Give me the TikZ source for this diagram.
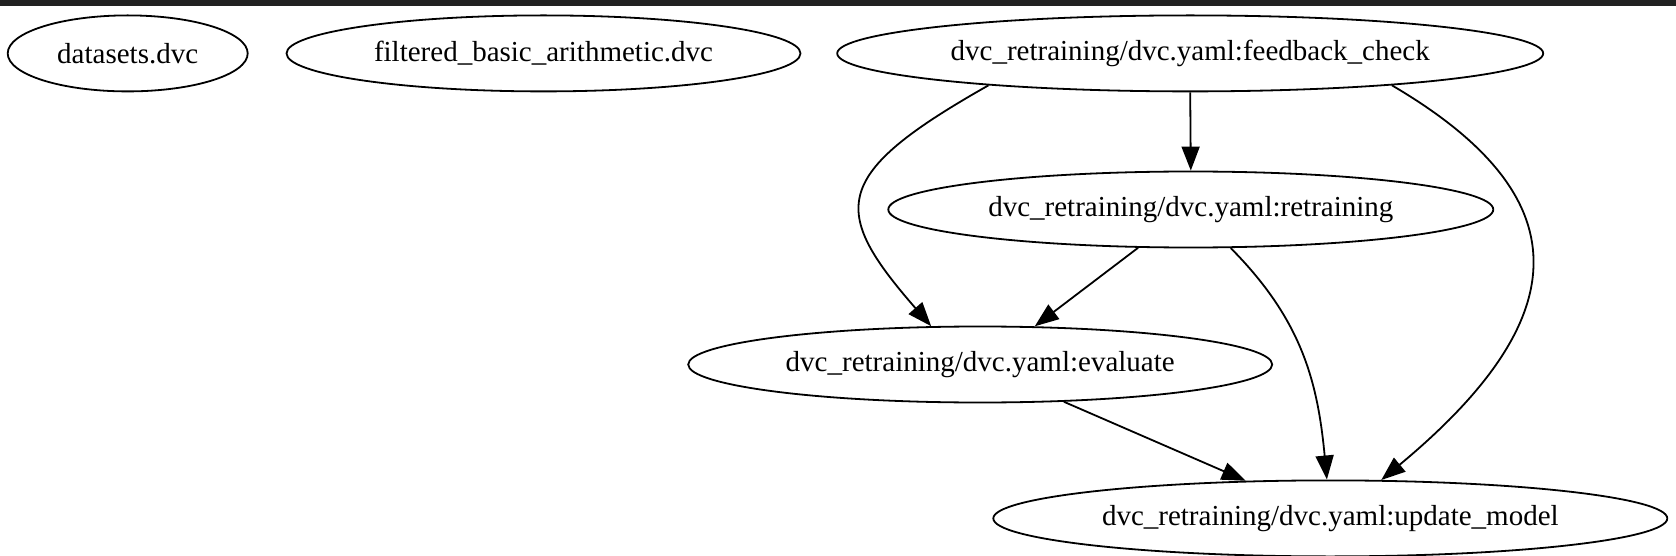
\documentclass[tikz,border=0pt]{standalone}
\usepackage{fontspec}
\setmainfont{Liberation Serif}
\usepackage{xcolor}
\usepackage{tikz}
\usetikzlibrary{arrows.meta,shapes.geometric}
\definecolor{ink}{HTML}{000000}
\definecolor{topbar}{HTML}{212121}

\begin{document}
\begin{tikzpicture}[x=1pt,y=-1pt,
    stage/.style={draw=ink, ellipse, line width=1.8pt, inner sep=0pt,
                  minimum height=76pt, text=ink,
                  font=\fontsize{29}{34}\selectfont},
    dep/.style={draw=ink, line width=1.8pt,
                -{Triangle[length=24pt,width=18pt]}}]
      \useasboundingbox (0,0) rectangle (1676,556);
      \fill[white] (0,0) rectangle (1676,556);
      \fill[topbar] (0,0) rectangle (1676,6);
      \node[stage, minimum width=240pt] (datasets) at (127.7,53.4) {datasets.dvc};
      \node[stage, minimum width=514pt] (filtered) at (543.5,53.4) {filtered\_basic\_arithmetic.dvc};
      \node[stage, minimum width=706pt] (feedback) at (1190.2,53.4) {dvc\_retraining/dvc.yaml:feedback\_check};
      \node[stage, minimum width=605pt] (retrain) at (1190.8,209.5) {dvc\_retraining/dvc.yaml:retraining};
      \node[stage, minimum width=584pt] (evaluate) at (980.2,364.5) {dvc\_retraining/dvc.yaml:evaluate};
      \node[stage, minimum width=674pt] (update) at (1330.3,518.4) {dvc\_retraining/dvc.yaml:update\_model};
      \draw[dep] (feedback.south) -- (retrain.north);
      \draw[dep] (feedback.189) .. controls (830,175) and (830,210) .. (evaluate.142);
      \draw[dep] (feedback.351) .. controls (1579,195) and (1580,315) .. (update.37);
      \draw[dep] (retrain.216) -- (evaluate.35);
      \draw[dep] (retrain.316) .. controls (1301,319) and (1317.5,380) .. (update.95);
      \draw[dep] (evaluate.336) -- (update.156);
    \end{tikzpicture}
\end{document}
